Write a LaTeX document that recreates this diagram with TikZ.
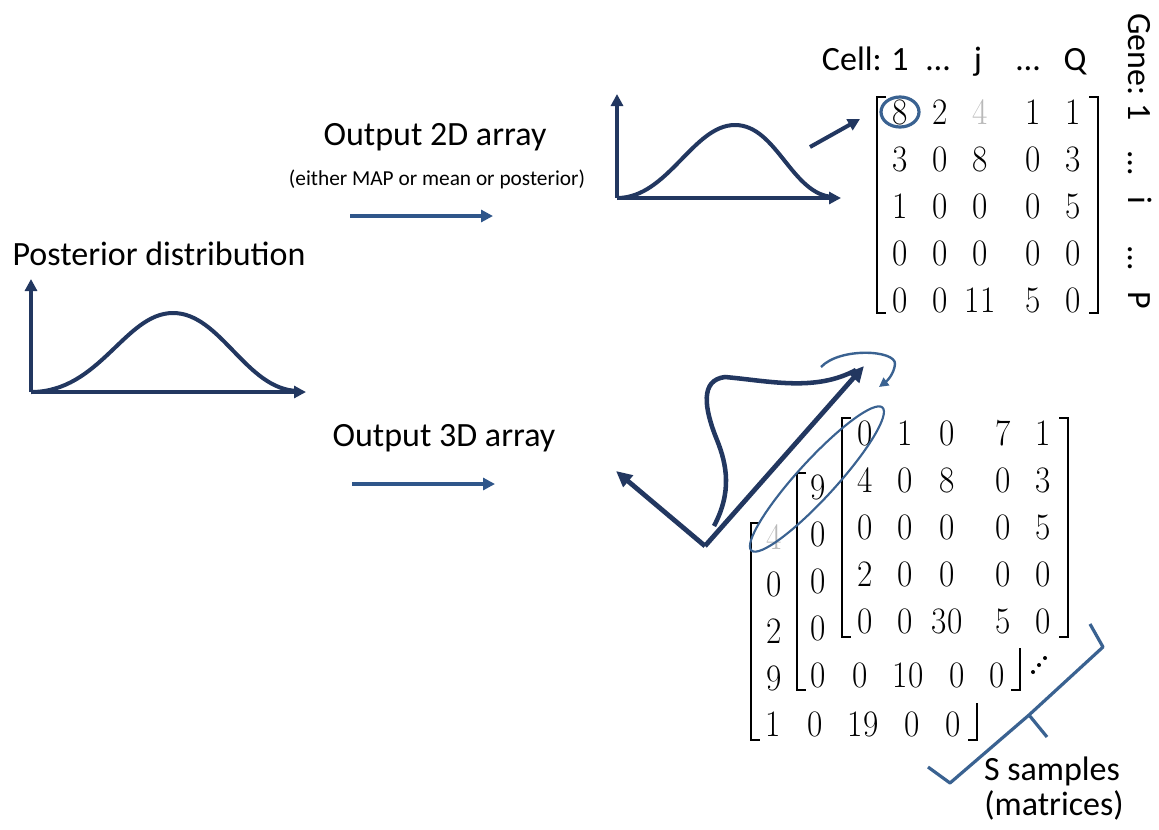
\documentclass[tikz,border=0pt]{standalone}
\usepackage{fontspec}
\newfontfamily\calfont{Carlito}
\usetikzlibrary{arrows.meta}
\definecolor{plotnavy}{RGB}{34,55,96}
\definecolor{arrowblue}{RGB}{47,86,138}
\definecolor{ringblue}{RGB}{58,98,145}
\newcommand{\matlb}[3]{\draw[brak] (#1+9,#2) -- (#1,#2) -- (#1,#3) -- (#1+9,#3);}
\newcommand{\matrb}[3]{\draw[brak] (#1-9,#2) -- (#1,#2) -- (#1,#3) -- (#1-9,#3);}
\newcommand{\numbox}[1]{\scalebox{1}[1.12]{#1}}
\begin{document}
\begin{tikzpicture}[x=0.75pt, y=-0.75pt,
    lbl/.style={inner sep=0pt, font=\calfont\fontsize{25.5}{30}\selectfont},
    sublbl/.style={inner sep=0pt, font=\calfont\fontsize{16}{19}\selectfont},
    num/.style={inner sep=0pt, font=\fontsize{25}{26}\selectfont},
    axis/.style={draw=plotnavy, line width=3pt, -{Triangle[length=9pt,width=9pt]}},
    bigaxis/.style={draw=plotnavy, line width=3.6pt, -{Triangle[length=12pt,width=11pt]}},
    curve/.style={draw=plotnavy, line width=3pt},
    outarrow/.style={draw=arrowblue, line width=2.6pt, -{Triangle[length=9pt,width=9pt]}},
    ring/.style={draw=ringblue, line width=1.6pt},
    brak/.style={draw=black, line width=1.1pt},
    brace/.style={draw=ringblue, line width=2.4pt}]
\useasboundingbox (0,0) rectangle (1159,829);

% posterior distribution
\node[lbl, anchor=base] (posttxt) at (159,265) {Posterior distribution};
\coordinate (po) at (31,392);
\coordinate (py) at (31,279);
\coordinate (px) at (306,392);
\draw[axis] (po) -- (py);
\draw[axis] (po) -- (px);
\draw[curve] (po) .. controls (100,392) and (125,313) .. (173,313) .. controls (221,313) and (246,390) .. (298,391);

% output 2D array
\node[lbl, anchor=base] (out2d) at (435,145) {Output 2D array};
\node[sublbl, anchor=base] (either) at (437,185) {(either MAP or mean or posterior)};
\coordinate (a2s) at (350,216);
\coordinate (a2e) at (493,216);
\draw[outarrow] (a2s) -- (a2e);

% 2D plot
\coordinate (qo) at (617,198);
\coordinate (qy) at (617,94);
\coordinate (qx) at (841,198);
\draw[axis] (qo) -- (qy);
\draw[axis] (qo) -- (qx);
\draw[curve] (qo) .. controls (668,198) and (693,125) .. (735,125) .. controls (777,125) and (792,196) .. (834,197);
\coordinate (q1) at (810,147);
\coordinate (q2) at (860,119);
\draw[axis] (q1) -- (q2);

% 2D matrix
\node[lbl, anchor=base east] (celltxt) at (882,70) {Cell:};
\foreach \t/\xx [count=\k] in {1/900,\dots/938,j/978,\dots/1028,Q/1075}
  \node[lbl, anchor=base] (cell\k) at (\xx,70) {\ifx\t\dots…\else\t\fi};
\node[lbl, anchor=base west, rotate=-90] (genetxt) at (1128,13) {Gene:};
\foreach \t/\yy [count=\k] in {1/112,\dots/163,i/200,\dots/258,P/300}
  \node[lbl, anchor=base, rotate=-90] (gene\k) at (1128,\yy) {\ifx\t\dots…\else\t\fi};
\foreach \row [count=\i] in {{8,2,{\color{gray!55}4},1,1},{3,0,8,0,3},{1,0,0,0,5},{0,0,0,0,0},{0,0,11,5,0}}
  \foreach \v [count=\j] in \row {
    \pgfmathsetmacro\xx{{900,940,980,1033,1073}[\j-1]}
    \node[num] (m\i\j) at (\xx,65+47*\i) {\numbox{\v}};
  }
\matlb{877}{97}{313}
\matrb{1098}{97}{313}
\draw[ring, line width=2.4pt] (m11) ellipse [x radius=19, y radius=15];

% output 3D array
\node[lbl, anchor=base] (out3d) at (444,446) {Output 3D array};
\coordinate (a3s) at (352,484);
\coordinate (a3e) at (495,484);
\draw[outarrow] (a3s) -- (a3e);

% 3D plot
\coordinate (ro) at (705,546);
\coordinate (rl) at (616,471);
\coordinate (rr) at (864,366);
\draw[bigaxis] (ro) -- (rl);
\draw[bigaxis] (ro) -- (rr);
\draw[curve, line width=3.4pt] (714,526) .. controls (732,492) and (727,465) .. (717,440) .. controls (704,408) and (700,380) .. (725,377) .. controls (770,381) and (815,392) .. (856,370);
\coordinate (t1) at (821,367);
\coordinate (t2) at (879,387);
\draw[ring, line width=1.8pt, -{Triangle[length=7pt,width=7pt]}] (t1) .. controls (840,347) and (896,350) .. (895,364) .. controls (894,374) and (887,381) .. (t2);

% S samples
\foreach \row [count=\i] in {{0,1,0,7,1},{4,0,8,0,3},{0,0,0,0,5},{2,0,0,0,0},{0,0,30,5,0}}
  \foreach \v [count=\j] in \row {
    \pgfmathsetmacro\xx{{865,905,947,1003,1043}[\j-1]}
    \node[num] (b\i\j) at (\xx,386+47*\i) {\numbox{\v}};
  }
\matlb{842}{418}{637}
\matrb{1068}{418}{637}
\foreach \v [count=\i] in {9,0,0,0}
  \node[num] (c\i1) at (818,440+47*\i) {\numbox{\v}};
\foreach \v/\xx [count=\j] in {0/818,0/860,10/908,0/957,0/997}
  \node[num] (c5\j) at (\xx,675) {\numbox{\v}};
\matlb{797}{473}{690}
\draw[brak] (1020,648) -- (1020,690) -- (1011,690);
\foreach \v [count=\i] in {{\color{gray!55}4},0,2,9}
  \node[num] (d\i1) at (774,490+47*\i) {\numbox{\v}};
\foreach \v/\xx [count=\j] in {1/773,0/815,19/863,0/912,0/953}
  \node[num] (d5\j) at (\xx,724) {\numbox{\v}};
\matlb{751}{523}{740}
\draw[brak] (977,703) -- (977,740) -- (968,740);
\fill (1033,672) circle (1.5pt) (1039,665) circle (1.5pt) (1045,658) circle (1.5pt);
\coordinate (el) at (817,479);
\draw[ring, rotate around={47.5:(el)}] (el) ellipse [x radius=97, y radius=19];
\draw[brace, line join=round] (928,767) -- (950,783) -- (1029,715) -- (1103,647) -- (1090,624);
\draw[brace] (1029,715) -- (1047,737);
\node[lbl, anchor=base] (ssamp) at (1052,780) {S samples};
\node[lbl, anchor=base] (smat) at (1054,815) {(matrices)};
\end{tikzpicture}
\end{document}
